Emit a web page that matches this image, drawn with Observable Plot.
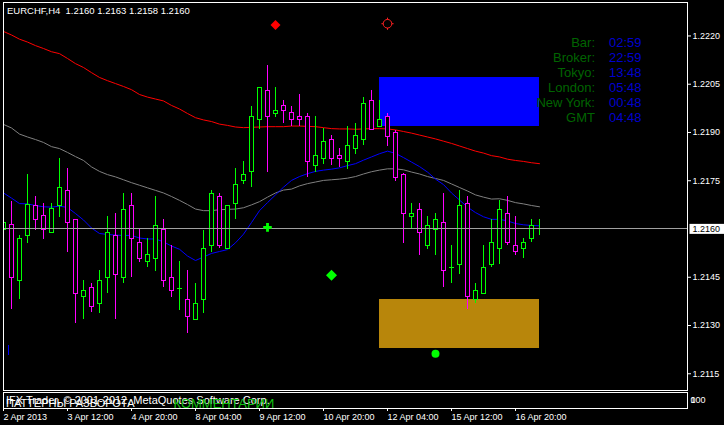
<!DOCTYPE html>
<html><head><meta charset="utf-8">
<script src="https://cdn.jsdelivr.net/npm/d3@7"></script>
<script src="https://cdn.jsdelivr.net/npm/@observablehq/plot@0.6"></script>
<style>
html,body{margin:0;padding:0;background:#000;}
#chart{width:724px;height:425px;overflow:hidden;background:#000;}
#chart svg{display:block;}
</style></head><body><div id="chart"></div>
<script>
// ---- data ----
const symbolName = "EURCHF,H4";
const headerOHLC = [1.2160, 1.2163, 1.2158, 1.2160];
const open  = [1.21598,1.21611,1.21439,1.21579,1.21670,1.21639,1.21588,1.21670,1.21719,1.21629,1.21388,1.21417,1.21368,1.21448,1.21579,1.21448,1.21670,1.21557,1.21498,1.21507,1.21596,1.21448,1.21416,1.21380,1.21317,1.21380,1.21548,1.21701,1.21538,1.21678,1.21748,1.21778,1.21939,1.22030,1.21957,1.21981,1.21959,1.21949,1.21949,1.21797,1.21818,1.21877,1.21828,1.21808,1.21849,1.21877,1.21998,1.21916,1.21948,1.21898,1.21768,1.21637,1.21660,1.21548,1.21598,1.21619,1.21479,1.21489,1.21678,1.21380,1.21399,1.21489,1.21538,1.21647,1.21548,1.21538,1.21570,1.21600];
const high  = [1.21629,1.21686,1.21580,1.21769,1.21701,1.21678,1.21678,1.21819,1.21788,1.21631,1.21440,1.21430,1.21471,1.21639,1.21647,1.21709,1.21709,1.21598,1.21570,1.21701,1.21629,1.21548,1.21499,1.21471,1.21431,1.21595,1.21720,1.21709,1.21670,1.21789,1.21810,1.21981,1.22041,1.22108,1.22040,1.21999,1.21981,1.22018,1.21958,1.21949,1.21911,1.21890,1.21850,1.21918,1.21927,1.22008,1.22030,1.21999,1.21958,1.21906,1.21771,1.21678,1.21678,1.21639,1.21648,1.21709,1.21548,1.21720,1.21701,1.21430,1.21548,1.21629,1.21689,1.21701,1.21639,1.21570,1.21629,1.21630];
const low   = [1.21587,1.21349,1.21380,1.21556,1.21595,1.21568,1.21586,1.21637,1.21528,1.21307,1.21318,1.21340,1.21337,1.21399,1.21318,1.21430,1.21448,1.21497,1.21479,1.21469,1.21417,1.21388,1.21347,1.21276,1.21316,1.21338,1.21528,1.21538,1.21536,1.21629,1.21738,1.21728,1.21908,1.21776,1.21947,1.21927,1.21918,1.21918,1.21759,1.21776,1.21800,1.21797,1.21790,1.21785,1.21831,1.21858,1.21906,1.21915,1.21856,1.21748,1.21556,1.21598,1.21518,1.21537,1.21518,1.21417,1.21430,1.21458,1.21349,1.21368,1.21397,1.21479,1.21489,1.21548,1.21518,1.21507,1.21557,1.21580];
const close = [1.21619,1.21448,1.21570,1.21676,1.21629,1.21598,1.21661,1.21728,1.21619,1.21399,1.21408,1.21358,1.21439,1.21588,1.21458,1.21660,1.21570,1.21507,1.21520,1.21610,1.21439,1.21407,1.21416,1.21327,1.21368,1.21538,1.21709,1.21548,1.21670,1.21738,1.21768,1.21949,1.22039,1.21947,1.21968,1.21966,1.21938,1.21939,1.21808,1.21828,1.21869,1.21818,1.21817,1.21859,1.21890,1.21989,1.21908,1.21939,1.21887,1.21759,1.21647,1.21647,1.21588,1.21610,1.21629,1.21470,1.21479,1.21670,1.21388,1.21408,1.21479,1.21557,1.21660,1.21557,1.21528,1.21557,1.21610,1.21600];
const maSlow = [1.22214,1.22203,1.22190,1.22181,1.22170,1.22161,1.22151,1.22145,1.22130,1.22114,1.22102,1.22086,1.22071,1.22061,1.22052,1.22043,1.22033,1.22018,1.22010,1.22004,1.21998,1.21984,1.21973,1.21959,1.21946,1.21939,1.21934,1.21926,1.21922,1.21917,1.21915,1.21916,1.21917,1.21918,1.21918,1.21918,1.21920,1.21920,1.21919,1.21918,1.21915,1.21912,1.21911,1.21911,1.21910,1.21911,1.21912,1.21912,1.21911,1.21908,1.21903,1.21898,1.21892,1.21886,1.21880,1.21873,1.21866,1.21858,1.21850,1.21842,1.21836,1.21828,1.21824,1.21817,1.21813,1.21810,1.21806,1.21803];
const maMid = [1.21925,1.21914,1.21895,1.21886,1.21878,1.21869,1.21856,1.21850,1.21838,1.21825,1.21813,1.21793,1.21779,1.21769,1.21762,1.21753,1.21744,1.21736,1.21728,1.21720,1.21712,1.21701,1.21689,1.21676,1.21662,1.21657,1.21657,1.21660,1.21661,1.21662,1.21666,1.21675,1.21685,1.21699,1.21712,1.21721,1.21724,1.21734,1.21741,1.21746,1.21751,1.21753,1.21755,1.21758,1.21763,1.21771,1.21778,1.21783,1.21787,1.21787,1.21784,1.21777,1.21771,1.21763,1.21757,1.21751,1.21740,1.21729,1.21718,1.21706,1.21699,1.21693,1.21694,1.21689,1.21682,1.21678,1.21673,1.21669];
const maFast = [1.21712,1.21696,1.21679,1.21678,1.21673,1.21669,1.21668,1.21671,1.21667,1.21648,1.21628,1.21603,1.21586,1.21583,1.21581,1.21580,1.21580,1.21572,1.21569,1.21569,1.21560,1.21547,1.21537,1.21516,1.21502,1.21513,1.21524,1.21530,1.21536,1.21557,1.21584,1.21620,1.21657,1.21682,1.21706,1.21730,1.21751,1.21763,1.21772,1.21779,1.21783,1.21786,1.21790,1.21797,1.21803,1.21814,1.21824,1.21834,1.21842,1.21835,1.21822,1.21808,1.21794,1.21777,1.21755,1.21738,1.21712,1.21690,1.21668,1.21651,1.21638,1.21630,1.21630,1.21625,1.21617,1.21613,1.21611,1.21610];
const timeTickBars = [0, 8, 16, 24, 32, 40, 48, 56, 64];
const timeTickLabels = ["2 Apr 2013","3 Apr 12:00","4 Apr 20:00","8 Apr 04:00","9 Apr 12:00","10 Apr 20:00","12 Apr 04:00","15 Apr 12:00","16 Apr 20:00"];
const priceTicks = [1.2115, 1.2130, 1.2145, 1.2175, 1.2190, 1.2205, 1.2220];
const lastPrice = 1.2160;
const zoneFromBar = [47, 47];
const zoneToBar = [67, 67];
const zoneTop = [1.22071, 1.21381];
const zoneBottom = [1.21918, 1.21230];
const zoneKind = ["resistance", "support"];
const markerBar = [34, 48, 41, 33, 54];
const markerPrice = [1.22234, 1.22238, 1.21456, 1.21605, 1.21212];
const markerKind = ["sell", "target", "buy", "cross", "dot"];
const tickBar = [0.625];
const tickFrom = [1.21238];
const tickTo = [1.21207];
const infoLabels = ["Bar:", "Broker:", "Tokyo:", "London:", "New York:", "GMT"];
const infoValues = ["02:59", "22:59", "13:48", "05:48", "00:48", "04:48"];
const subTitles = ["IFX Trader, © 2001-2012, MetaQuotes Software Corp.", "ПАТТЕРНЫ РАЗВОРОТА"];
const subComment = "КОММЕНТАРИИ";
const subScale = ["100", "0"];

// ---- build tables ----
const candles = open.map((o, i) => ({k: i, open: o, high: high[i], low: low[i], close: close[i]}));
const bulls = candles.filter(d => d.close >= d.open);
const bears = candles.filter(d => d.close < d.open);
const dojis = candles.filter(d => d.open === d.close);
const ma = (arr) => arr.map((v, i) => ({k: i, v}));
const zones = zoneKind.map((kind, i) => ({kind, x1: zoneFromBar[i], x2: zoneToBar[i], top: zoneTop[i], bottom: zoneBottom[i]}));
const markers = markerKind.map((kind, i) => ({kind, k: markerBar[i], p: markerPrice[i]}));
const ticks = tickBar.map((k, i) => ({k, a: tickFrom[i], b: tickTo[i]}));
const fmt = d3.format(".4f");
const labelByBar = new Map(timeTickBars.map((b, i) => [b, timeTickLabels[i]]));

const BULL = "#00ff00", BEAR = "#ff00ff";
const font = "'Liberation Sans', Arial, sans-serif";
const xDomain = [0, 85.5];
const crisp = {shapeRendering: "crispEdges"};

function candleMarks(data, color) {
  return [
    Plot.ruleX(data, {x: "k", y1: "low", y2: "high", stroke: color, clip: true, ...crisp}),
    Plot.rect(data, {x1: d => d.k - 0.25, x2: d => d.k + 0.25, y1: "open", y2: "close", fill: "#000", stroke: color, clip: true, ...crisp})
  ];
}

const main = Plot.plot({
  width: 724, height: 391,
  marginLeft: 3, marginRight: 37, marginTop: 2, marginBottom: 1,
  style: {background: "#000", color: "#fff", fontFamily: font, fontSize: "9px"},
  x: {domain: xDomain, axis: null},
  y: {domain: [1.21098, 1.22304]},
  marks: [
    Plot.rect(zones.filter(d => d.kind === "resistance"), {x1: "x1", x2: "x2", y1: "bottom", y2: "top", fill: "#0000ff", ...crisp}),
    Plot.rect(zones.filter(d => d.kind === "support"), {x1: "x1", x2: "x2", y1: "bottom", y2: "top", fill: "#b8860b", ...crisp}),
    Plot.line(ma(maSlow), {x: "k", y: "v", stroke: "#ff0000", strokeWidth: 1, clip: true}),
    Plot.line(ma(maMid), {x: "k", y: "v", stroke: "#808080", strokeWidth: 1, clip: true}),
    Plot.line(ma(maFast), {x: "k", y: "v", stroke: "#0000ff", strokeWidth: 1, clip: true}),
    ...candleMarks(bulls, BULL),
    ...candleMarks(bears, BEAR),
    Plot.ruleY(dojis, {y: "open", x1: d => d.k - 0.25, x2: d => d.k + 0.3125, stroke: BULL, clip: true, ...crisp}),
    Plot.ruleX(ticks, {x: "k", y1: "a", y2: "b", stroke: "#0000ff", ...crisp}),
    Plot.ruleY([lastPrice], {stroke: "#a0a0a0", ...crisp}),
    // signal markers
    Plot.dot(markers.filter(d => d.kind === "sell"), {x: "k", y: "p", symbol: "square", rotate: 45, r: 4, fill: "#ff0000"}),
    Plot.dot(markers.filter(d => d.kind === "buy"), {x: "k", y: "p", symbol: "square", rotate: 45, r: 4.4, fill: "#00ff00"}),
    Plot.dot(markers.filter(d => d.kind === "target"), {x: "k", y: "p", symbol: "plus", r: 4, stroke: "#ff2020", strokeWidth: 1}),
    Plot.dot(markers.filter(d => d.kind === "target"), {x: "k", y: "p", r: 4.3, fill: "#000", stroke: "#ff2020", strokeWidth: 1}),
    Plot.dot(markers.filter(d => d.kind === "cross"), {x: "k", y: "p", symbol: "cross", r: 3.6, fill: "#00ff00"}),
    Plot.dot(markers.filter(d => d.kind === "dot"), {x: "k", y: "p", r: 4, fill: "#00ff00"}),
    Plot.frame({stroke: "#fff", ...crisp}),
    Plot.axisY({anchor: "right", ticks: priceTicks, tickFormat: fmt, tickSize: 3, tickPadding: 2, fontSize: 9, label: null}),
    Plot.text([lastPrice], {y: d => d, text: d => fmt(d), frameAnchor: "right", dx: 5, textAnchor: "start", fill: "#000", fontSize: 9, className: "lastlabel"}),
    Plot.text([`${symbolName}\u00a0 ${headerOHLC.map(fmt).join(" ")}`], {frameAnchor: "top-left", dx: 3.5, dy: 4.8, lineAnchor: "top", textAnchor: "start", fill: "#fff", fontSize: 9.5}),
    Plot.text([infoLabels.join("\n")], {frameAnchor: "top-right", dx: -92.5, dy: 34.3, lineAnchor: "top", lineHeight: 15 / 13, textAnchor: "end", fill: "#006400", fontSize: 13}),
    Plot.text([infoValues.join("\n")], {frameAnchor: "top-right", dx: -78.5, dy: 34.3, lineAnchor: "top", lineHeight: 15 / 13, textAnchor: "start", fill: "#0000cd", fontSize: 13})
  ]
});

const sub = Plot.plot({
  width: 724, height: 34,
  marginLeft: 3, marginRight: 37, marginTop: 1, marginBottom: 17,
  style: {background: "#000", color: "#fff", fontFamily: font, fontSize: "9px"},
  x: {domain: xDomain},
  y: {domain: [0, 100], axis: null},
  marks: [
    Plot.text([subTitles[0]], {frameAnchor: "left", dx: 2.5, dy: -0.5, textAnchor: "start", fill: "#fff", fontSize: 11}),
    Plot.text([subTitles[1]], {frameAnchor: "left", dx: 2.5, dy: 2.5, textAnchor: "start", fill: "#fff", fontSize: 11}),
    Plot.text([subComment], {frameAnchor: "left", dx: 170, dy: 3.2, textAnchor: "start", fill: "#10c010", fontSize: 13}),
    Plot.text(subScale, {frameAnchor: "right", dx: 3, dy: -0.5, textAnchor: "start", fill: "#fff", fontSize: 9}),
    Plot.frame({stroke: "#fff", ...crisp}),
    Plot.axisX({anchor: "bottom", ticks: timeTickBars, tickFormat: d => labelByBar.get(d), tickSize: 3, tickPadding: 2, textAnchor: "start", fontSize: 9, label: null})
  ]
});

const host = document.getElementById("chart");
host.appendChild(main);
host.appendChild(sub);

// white box behind the last-price label on the price scale
const lbl = main.querySelector(".lastlabel text");
if (lbl) {
  const bb = lbl.getBBox();
  const r = document.createElementNS("http://www.w3.org/2000/svg", "rect");
  r.setAttribute("x", bb.x - 3);
  r.setAttribute("y", bb.y);
  r.setAttribute("width", bb.width + 7);
  r.setAttribute("height", bb.height);
  r.setAttribute("fill", "#fff");
  if (lbl.getAttribute("transform")) r.setAttribute("transform", lbl.getAttribute("transform"));
  lbl.parentNode.insertBefore(r, lbl);
}
</script></body></html>
